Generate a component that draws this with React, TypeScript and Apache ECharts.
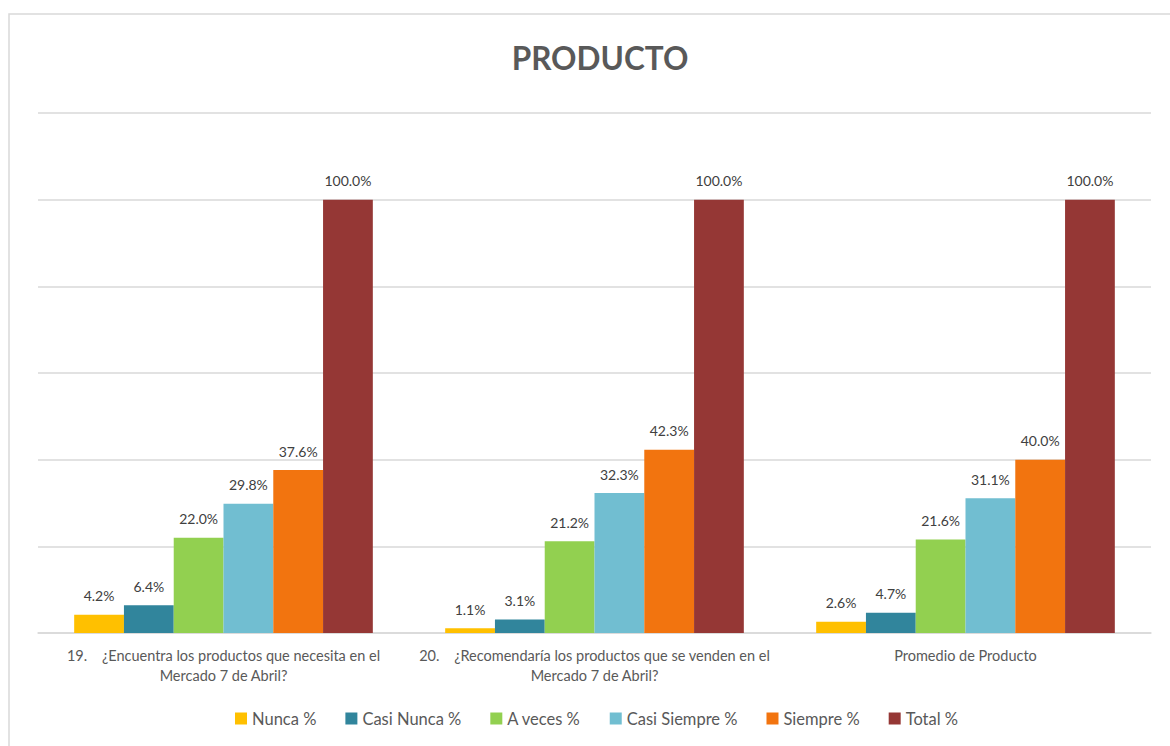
import React, { useEffect, useRef } from "react";
import * as echarts from "echarts";

const categories = [
  "19.    ¿Encuentra los productos que necesita en el\nMercado 7 de Abril?",
  "20.    ¿Recomendaría los productos que se venden en el\nMercado 7 de Abril?",
  "Promedio de Producto",
];
const seriesNames = ["Nunca %", "Casi Nunca %", "A veces %", "Casi Siempre %", "Siempre %", "Total %"];
const nunca = [4.2, 1.1, 2.6];
const casiNunca = [6.4, 3.1, 4.7];
const aVeces = [22.0, 21.2, 21.6];
const casiSiempre = [29.8, 32.3, 31.1];
const siempre = [37.6, 42.3, 40.0];
const total = [100.0, 100.0, 100.0];
const colors = ["#FFC000", "#31859C", "#92D050", "#71BED1", "#F2740F", "#953735"];

export default function App() {
  const ref = useRef<HTMLDivElement>(null);
  useEffect(() => {
    if (!ref.current) return;
    const chart = echarts.init(ref.current, null, { renderer: "svg" });
    const values = [nunca, casiNunca, aVeces, casiSiempre, siempre, total];
    const font = "Lato, 'Open Sans', sans-serif";
    chart.setOption({
      animation: false,
      textStyle: { fontFamily: font },
      title: {
        text: "PRODUCTO",
        left: 595,
        textAlign: "center",
        top: 37,
        textStyle: { fontSize: 31.5, fontWeight: "bold", color: "#595959", fontFamily: font },
      },
      graphic: [
        {
          type: "rect",
          shape: { x: 9, y: 14, width: 1300, height: 900 },
          style: { fill: "none", stroke: "#d9d9d9", lineWidth: 1.5 },
          silent: true,
        },
      ],
      legend: {
        data: seriesNames,
        bottom: 14,
        left: 230,
        itemWidth: 12,
        itemHeight: 12,
        itemGap: 29,
        icon: "rect",
        textStyle: { fontSize: 16.5, color: "#595959", fontFamily: font },
      },
      grid: { left: 38, right: 19, top: 113, bottom: 113 },
      xAxis: {
        type: "category",
        data: categories,
        axisLine: { lineStyle: { color: "#d9d9d9", width: 1.5 } },
        axisTick: { show: false },
        axisLabel: { fontSize: 14.5, color: "#595959", lineHeight: 20, margin: 12, interval: 0, fontFamily: font },
      },
      yAxis: {
        type: "value",
        min: 0,
        max: 120,
        interval: 20,
        axisLabel: { show: false },
        axisLine: { show: false },
        axisTick: { show: false },
        splitLine: { lineStyle: { color: "#d9d9d9", width: 1.5 } },
      },
      series: seriesNames.map((name, i) => ({
        name,
        type: "bar",
        data: values[i],
        barGap: "0%",
        barCategoryGap: "19.5%",
        itemStyle: { color: colors[i] },
        label: {
          show: true,
          position: "top",
          distance: 12,
          fontSize: 14,
          color: "#404040",
          fontFamily: font,
          formatter: (p: any) => Number(p.value).toFixed(1) + "%",
        },
      })),
    });
    return () => chart.dispose();
  }, []);
  return (
    <div
      ref={ref}
      style={{ position: "fixed", left: 0, top: 0, width: 1170, height: 746, background: "#fff" }}
    />
  );
}
